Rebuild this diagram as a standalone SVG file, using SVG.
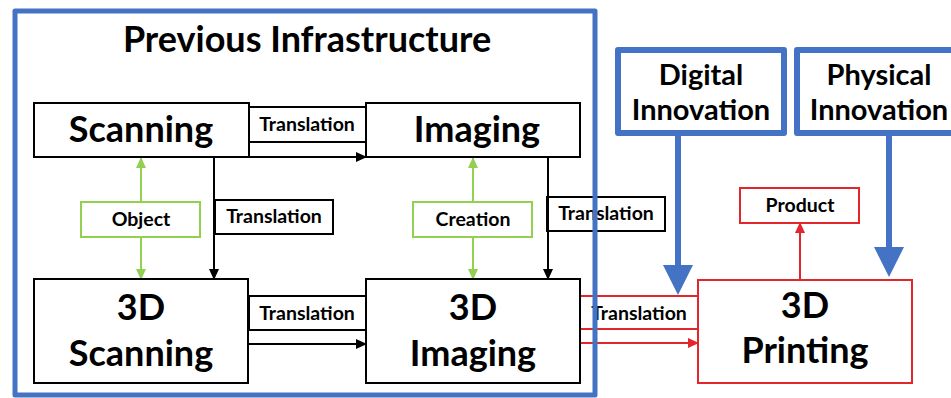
<svg xmlns="http://www.w3.org/2000/svg" width="951" height="398" viewBox="0 0 951 398">
  <style>
    .box{fill:#fff;stroke:#000;stroke-width:2}
    .gbox{fill:#fff;stroke:#92D050;stroke-width:2}
    .rbox{fill:#fff;stroke:#E3262B;stroke-width:2}
    .bbox{fill:#fff;stroke:#4472C4;stroke-width:6;stroke-linejoin:round}
    .frame{fill:none;stroke:#4472C4;stroke-width:5;stroke-linejoin:round}
    text{font-family:Lato,"Open Sans","Liberation Sans",sans-serif;font-weight:bold;text-anchor:middle;fill:#000}
    .title{font-size:36px}
    .big{font-size:36px}
    .mid{font-size:29px}
    .small{font-size:19.5px}
    .k{fill:none;stroke:#000;stroke-width:2}
    .g{fill:none;stroke:#92D050;stroke-width:2}
    .r{fill:none;stroke:#E3262B;stroke-width:2}
    .b{fill:none;stroke:#4472C4;stroke-width:6}
  </style>
  <defs>
    <marker id="ak" markerUnits="userSpaceOnUse" markerWidth="11" markerHeight="10" refX="10" refY="5" orient="auto">
      <path d="M0,0 L11,5 L0,10 z" fill="#000"/>
    </marker>
    <marker id="ag" markerUnits="userSpaceOnUse" markerWidth="11" markerHeight="10" refX="10" refY="5" orient="auto">
      <path d="M0,0 L11,5 L0,10 z" fill="#92D050"/>
    </marker>
    <marker id="ar" markerUnits="userSpaceOnUse" markerWidth="11" markerHeight="10" refX="10" refY="5" orient="auto">
      <path d="M0,0 L11,5 L0,10 z" fill="#E3262B"/>
    </marker>
    <marker id="ab" markerUnits="userSpaceOnUse" markerWidth="30" markerHeight="30" refX="15" refY="15" orient="auto">
      <path d="M0,0 L30,15 L0,30 z" fill="#4472C4"/>
    </marker>
  </defs>

  <!-- label boxes on the connectors -->
  <g id="label-translation-top">
    <rect class="box" x="249" y="107" width="117" height="35"/>
    <text class="small" x="307" y="131">Translation</text>
  </g>
  <g id="label-translation-left">
    <rect class="box" x="215" y="200" width="118" height="34"/>
    <text class="small" x="274" y="223">Translation</text>
  </g>
  <g id="label-translation-right">
    <rect class="box" x="547" y="197" width="118" height="34"/>
    <text class="small" x="606" y="220">Translation</text>
  </g>
  <g id="label-translation-bottom">
    <rect class="box" x="249" y="296" width="117" height="34"/>
    <text class="small" x="307" y="320">Translation</text>
  </g>
  <g id="label-translation-red">
    <rect class="rbox" x="580" y="296" width="118" height="33"/>
    <text class="small" x="639" y="320">Translation</text>
  </g>

  <!-- connectors -->
  <g id="connectors">
    <path class="k" d="M249,157 H366" marker-end="url(#ak)"/>
    <path class="k" d="M214,157 V279" marker-end="url(#ak)"/>
    <path class="k" d="M548,157 V279" marker-end="url(#ak)"/>
    <path class="g" d="M141,202 V158" marker-end="url(#ag)"/>
    <path class="g" d="M141,237 V279" marker-end="url(#ag)"/>
    <path class="g" d="M473,202 V158" marker-end="url(#ag)"/>
    <path class="g" d="M473,237 V279" marker-end="url(#ag)"/>
    <path class="k" d="M249,344 H366" marker-end="url(#ak)"/>
    <path class="r" d="M580,343 H698" marker-end="url(#ar)"/>
    <path class="r" d="M800,280 V223" marker-end="url(#ar)"/>
  </g>

  <g id="scanning">
    <rect class="box" x="34" y="103" width="215" height="54"/>
    <text class="big" x="141" y="142">Scanning</text>
  </g>
  <g id="imaging">
    <rect class="box" x="366" y="103" width="214" height="54"/>
    <text class="big" x="477" y="142">Imaging</text>
  </g>
  <g id="object">
    <rect class="gbox" x="81" y="202" width="119" height="35"/>
    <text class="small" x="141" y="226">Object</text>
  </g>
  <g id="creation">
    <rect class="gbox" x="413" y="202" width="119" height="35"/>
    <text class="small" x="473" y="226">Creation</text>
  </g>
  <g id="scanning-3d">
    <rect class="box" x="34" y="279" width="214" height="104"/>
    <text class="big" x="141" y="320">3D</text>
    <text class="big" x="141" y="366">Scanning</text>
  </g>
  <g id="imaging-3d">
    <rect class="box" x="366" y="279" width="214" height="104"/>
    <text class="big" x="473" y="320">3D</text>
    <text class="big" x="473" y="366">Imaging</text>
  </g>
  <g id="printing-3d">
    <rect class="rbox" x="698" y="280" width="214" height="103"/>
    <text class="big" x="805" y="318">3D</text>
    <text class="big" x="805" y="363">Printing</text>
  </g>
  <g id="product">
    <rect class="rbox" x="740" y="188" width="119" height="35"/>
    <text class="small" x="800" y="212">Product</text>
  </g>
  <g id="digital-innovation">
    <rect class="bbox" x="618" y="50" width="166" height="83"/>
    <text class="mid" x="701" y="85">Digital</text>
    <text class="mid" x="701" y="120">Innovation</text>
  </g>
  <g id="physical-innovation">
    <rect class="bbox" x="797" y="50" width="170" height="83"/>
    <text class="mid" x="879" y="85">Physical</text>
    <text class="mid" x="879" y="120">Innovation</text>
  </g>

  <!-- thick innovation arrows -->
  <g id="innovation-arrows">
    <path class="b" d="M678,133 V280" marker-end="url(#ab)"/>
    <path class="b" d="M889,133 V262" marker-end="url(#ab)"/>
  </g>

  <!-- enclosing frame, drawn over the crossing labels -->
  <g id="previous-infrastructure">
    <rect class="frame" x="15" y="11" width="580" height="384"/>
    <text class="title" x="307" y="52">Previous Infrastructure</text>
  </g>
</svg>
